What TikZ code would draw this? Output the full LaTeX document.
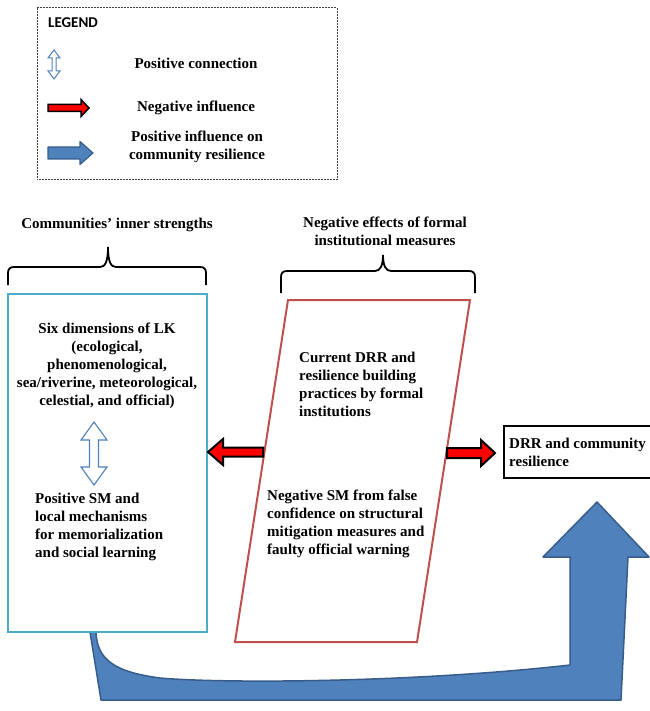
\documentclass[tikz,border=0pt]{standalone}
\usepackage{fontspec}
\setmainfont{Liberation Serif}
\newfontfamily\legendfont{Carlito}
\usepackage{tikz}
\usepackage{xcolor}
\usetikzlibrary{arrows.meta,calc,positioning}
\definecolor{Office_Blue}{HTML}{4F81BD}
\definecolor{Office_BlueDark}{HTML}{385D8A}
\definecolor{Office_Red}{HTML}{C0504D}
\definecolor{Office_Aqua}{HTML}{4BACC6}
\definecolor{Legend_Gray}{HTML}{404040}

\tikzset{
    lbl/.style={font=\fontsize{15}{18}\selectfont\bfseries, inner sep=0pt},
    negflow/.style={fill=red, draw=black, line width=2pt, line join=miter},
    posflow/.style={fill=Office_Blue, draw=Office_BlueDark, line width=1.5pt, line join=round},
    linkflow/.style={fill=white, draw=Office_Blue, line width=1.3pt},
    bracket/.style={draw=black, line width=1.8pt},
}

\begin{document}
\begin{tikzpicture}[x=1pt, y=-1pt]
    \useasboundingbox (0,0) rectangle (649,711);

    % Legend frame
    \draw[Legend_Gray, line width=1pt, dash pattern=on 2pt off 1pt] (37,8) rectangle (337,180);
    \node[inner sep=0pt, anchor=west, font=\legendfont\fontsize{15}{17}\selectfont\bfseries] (legend) at (48,23) {LEGEND};

    % Legend entries
    \draw[linkflow, line width=1pt] (54,50) -- (60,58) -- (56,58) -- (56,71) -- (60,71) -- (54,79)
        -- (48,71) -- (52,71) -- (52,58) -- (48,58) -- cycle;
    \node[lbl] (keylink) at (196,63) {Positive connection};

    \draw[negflow, line width=1.5pt] (89,108) -- (81,99.5) -- (81,104.5) -- (48,104.5) -- (48,111.5)
        -- (81,111.5) -- (81,116.5) -- cycle;
    \node[lbl] (keyneg) at (196,108) {Negative influence};

    \draw[posflow, line width=1.2pt] (93,153) -- (80,141.5) -- (80,147) -- (48,147) -- (48,159)
        -- (80,159) -- (80,164.5) -- cycle;
    \node[lbl, align=center] (keypos) at (197,147) {Positive influence on\\community resilience};

    % Group titles
    \node[lbl] (innertitle) at (117,225) {Communities’ inner strengths};
    \node[lbl, align=center] (formaltitle) at (385,231) {Negative effects of formal\\institutional measures};

    % Braces
    \draw[bracket] (8,285) -- (8,273) .. controls (8,269) and (10,267) .. (14,267) -- (100,267)
        .. controls (105,267) and (108,262) .. (108,247) .. controls (108,262) and (111,267) .. (116,267)
        -- (200,267) .. controls (204,267) and (206,269) .. (206,273) -- (206,285);
    \draw[bracket] (281,293) -- (281,277) .. controls (281,273) and (283,271) .. (287,271) -- (375,271)
        .. controls (380,271) and (383,266) .. (383,255) .. controls (383,266) and (386,271) .. (391,271)
        -- (469,271) .. controls (473,271) and (475,273) .. (475,277) -- (475,293);

    % Big blue flow from inner strengths to resilience
    \draw[posflow] (90,632) -- (101,700) -- (621,700) -- (628,557) -- (649,557) -- (597,502)
        -- (543,557) -- (570,557) -- (570,665) .. controls (420,682) and (230,684) .. (160,678)
        .. controls (115,672) and (97,660) .. (96,632) -- cycle;

    % Communities' inner strengths box
    \node[draw=Office_Aqua, line width=2.5pt, fill=white, minimum width=199pt, minimum height=338pt] (inner) at (107.5,463) {};
    \node[lbl, align=center] (lk) at (107,366) {Six dimensions of LK\\(ecological,\\phenomenological,\\sea/riverine, meteorological,\\celestial, and official)};
    \draw[linkflow, line width=1.1pt] (94,422) -- (107,440) -- (98.5,440) -- (98.5,467) -- (107,467) -- (94,485)
        -- (81,467) -- (89.5,467) -- (89.5,440) -- (81,440) -- cycle;
    \node[lbl, align=left, anchor=west] (sm) at (35,527) {Positive SM and\\local mechanisms\\for memorialization\\and social learning};

    % Formal institutional measures
    \draw[Office_Red, line width=2pt] (288,300) -- (470,300) -- (417,642) -- (235,642) -- cycle;
    \coordinate (formal) at (352.5,471);
    \node[lbl, align=left, anchor=west] (drrpractice) at (299,384) {Current DRR and\\resilience building\\practices by formal\\institutions};
    \node[lbl, align=left, anchor=west] (negsm) at (267,524) {Negative SM from false\\confidence on structural\\mitigation measures and\\faulty official warning};

    % Negative influences
    \draw[negflow] (208,452) -- (223,439) -- (223,447.5) -- (263,447.5) -- (263,456.5) -- (223,456.5)
        -- (223,465) -- cycle;
    \draw[negflow] (495,453) -- (481,440) -- (481,448) -- (447,448) -- (447,458) -- (481,458)
        -- (481,466) -- cycle;

    % Outcome
    \node[draw=black, line width=2pt, anchor=north west, minimum width=180pt, minimum height=52pt] (drr) at (503,425) {};
    \node[lbl, align=left, anchor=west, xshift=6pt] (drrtext) at (drr.west) {DRR and community\\resilience};
\end{tikzpicture}
\end{document}
